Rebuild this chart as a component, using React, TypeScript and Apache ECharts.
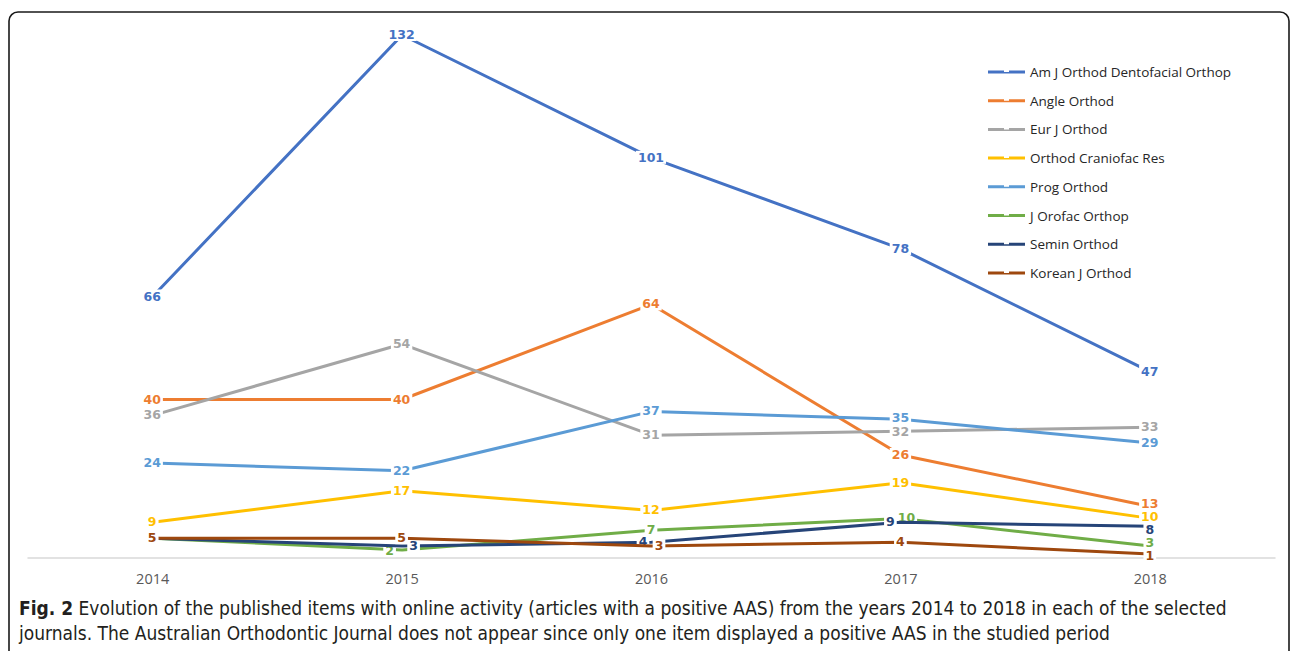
import React, { useEffect, useRef } from "react";
import * as echarts from "echarts";

const years = ["2014", "2015", "2016", "2017", "2018"];
const seriesNames = [
  "Am J Orthod Dentofacial Orthop",
  "Angle Orthod",
  "Eur J Orthod",
  "Orthod Craniofac Res",
  "Prog Orthod",
  "J Orofac Orthop",
  "Semin Orthod",
  "Korean J Orthod",
];
const amJ = [66, 132, 101, 78, 47];
const angle = [40, 40, 64, 26, 13];
const eurJ = [36, 54, 31, 32, 33];
const craniofac = [9, 17, 12, 19, 10];
const prog = [24, 22, 37, 35, 29];
const orofac = [5, 2, 7, 10, 3];
const semin = [5, 3, 4, 9, 8];
const korean = [5, 5, 3, 4, 1];
const seriesValues = [amJ, angle, eurJ, craniofac, prog, orofac, semin, korean];
const colors = ["#4472C4", "#ED7D31", "#A5A5A5", "#FFC000", "#5B9BD5", "#70AD47", "#264478", "#9E480E"];

// small label nudges (series index -> point index -> [dx, dy]) so stacked labels stay readable
const labelNudges: Record<number, Record<number, [number, number]>> = {
  1: { 4: [0, -2] },
  2: { 3: [0, 1] },
  3: { 4: [0, -1] },
  4: { 3: [0, -1] },
  5: { 1: [-12, 1], 3: [6, 0], 4: [0, -3] },
  6: { 1: [12, 0], 2: [-8, 0], 3: [-10, 0], 4: [0, 4] },
  7: { 2: [8, 0], 4: [0, 2] },
};
// labels hidden because an identical label sits exactly on top of them (2014: all "5")
const hiddenLabels: Record<number, number[]> = { 5: [0], 6: [0] };

const captionBold = "Fig. 2";
const captionLine1 = " Evolution of the published items with online activity (articles with a positive AAS) from the years 2014 to 2018 in each of the selected";
const captionLine2 = "journals. The Australian Orthodontic Journal does not appear since only one item displayed a positive AAS in the studied period";

export default function App() {
  const ref = useRef<HTMLDivElement>(null);
  useEffect(() => {
    if (!ref.current) return;
    const chart = echarts.init(ref.current, null, { renderer: "svg" });
    const captionFont = "'Liberation Sans Narrow', 'DejaVu Sans Condensed', 'Open Sans', sans-serif";
    chart.setOption({
      animation: false,
      backgroundColor: "#ffffff",
      color: colors,
      grid: { left: 28, right: 17, top: 35, bottom: 93, containLabel: false },
      legend: {
        orient: "vertical",
        left: 988,
        top: 65,
        padding: 0,
        itemWidth: 37,
        itemHeight: 3,
        itemGap: 14.7,
        icon: "path://M0,0h16v3h-16z M21,0h16v3h-16z M16,1.5h5v1.5h-5z",
        textStyle: { fontSize: 13.5, lineHeight: 14, color: "#262626", fontFamily: "'Open Sans', sans-serif" },
        data: seriesNames.map((name, i) => ({
          name,
          itemStyle: { color: colors[i], opacity: 1, borderWidth: 0 },
        })),
      },
      xAxis: {
        type: "category",
        data: years,
        boundaryGap: true,
        axisLine: { lineStyle: { color: "#D9D9D9", width: 1.5 } },
        axisTick: { show: false },
        axisLabel: { color: "#595959", fontSize: 14.5, margin: 13, fontFamily: "'Open Sans', sans-serif" },
      },
      yAxis: {
        type: "value",
        min: 0,
        max: 132,
        show: false,
        splitLine: { show: false },
      },
      series: seriesNames.map((name, i) => ({
        name,
        type: "line",
        data: seriesValues[i].map((v, j) => {
          const nudge = labelNudges[i] && labelNudges[i][j];
          const hidden = hiddenLabels[i] && hiddenLabels[i].includes(j);
          const item: any = { value: v };
          if (nudge || hidden) {
            item.label = {};
            if (nudge) item.label.offset = nudge;
            if (hidden) item.label.show = false;
          }
          return item;
        }),
        symbol: "circle",
        symbolSize: 1,
        showSymbol: true,
        lineStyle: { width: 3, color: colors[i] },
        itemStyle: { color: "rgba(255,255,255,0)", borderWidth: 0 },
        label: {
          show: true,
          position: [0, 0],
          align: "center",
          verticalAlign: "middle",
          color: colors[i],
          fontSize: 12.5,
          fontWeight: "bold",
          fontFamily: "'DejaVu Sans', sans-serif",
          backgroundColor: "#ffffff",
          padding: [0, 2],
        },
        emphasis: { disabled: true },
        z: 2 + i,
      })),
      graphic: [
        {
          type: "rect",
          shape: { x: 9, y: 12, width: 1280, height: 700, r: 9 },
          style: { fill: "none", stroke: "#1a1a1a", lineWidth: 1.6 },
          silent: true,
        },
        {
          type: "text",
          x: 19,
          y: 608,
          style: {
            text: "{b|" + captionBold + "}{n|" + captionLine1 + "}",
            verticalAlign: "middle",
            rich: {
              b: { fontFamily: captionFont, fontSize: 19, fontWeight: "bold", fill: "#231F20" },
              n: { fontFamily: captionFont, fontSize: 19, fill: "#231F20" },
            },
          },
        },
        {
          type: "text",
          x: 19,
          y: 633,
          style: {
            text: captionLine2,
            verticalAlign: "middle",
            fontFamily: captionFont,
            fontSize: 19,
            fill: "#231F20",
          },
        },
      ],
    });
    return () => chart.dispose();
  }, []);
  return (
    <div
      ref={ref}
      style={{ position: "fixed", left: 0, top: 0, width: 1292, height: 651, background: "#fff" }}
    />
  );
}
